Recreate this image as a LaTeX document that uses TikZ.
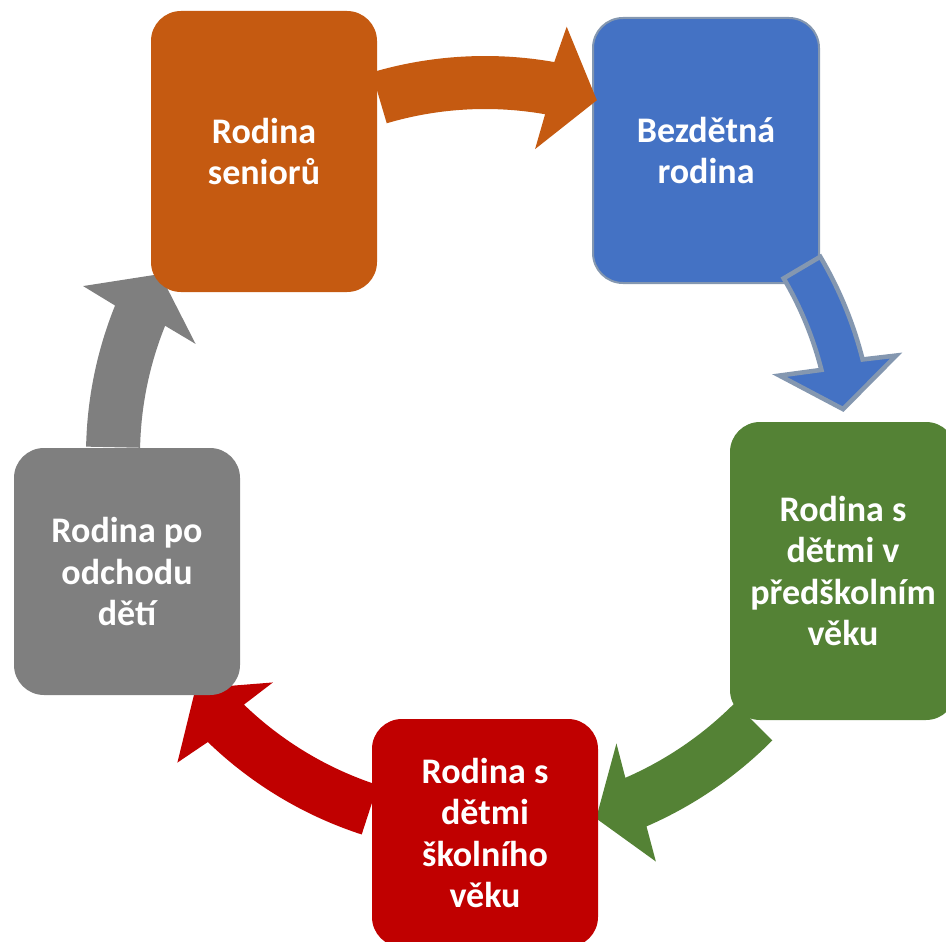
\documentclass[tikz,border=0pt]{standalone}
\usepackage{fontspec}
\setmainfont{Carlito}
\definecolor{orangeC}{HTML}{C55A11}
\definecolor{blueC}{HTML}{4472C4}
\definecolor{blueBorder}{HTML}{8497B0}
\definecolor{greenC}{HTML}{548235}
\definecolor{redC}{HTML}{C00000}
\definecolor{grayC}{HTML}{7F7F7F}
\begin{document}
\begin{tikzpicture}[x=0.75pt,y=-0.75pt,
  box/.style={rectangle, rounded corners=22.5pt, inner sep=0pt, minimum width=169.5pt,
    text=white, align=center, font=\bfseries\fontsize{27}{31}\selectfont},
  blockarrow/.style={line join=miter}]
\clip (0,0) rectangle (946,942);
% Blue box and its arrow
\node[box, fill=blueC, draw=blueBorder, line width=1.5pt, minimum height=198.75pt] (bez) at (706,150.5) {Bezdětná\\rodina};
\begin{scope}[shift={(485,455)}]
\path[blockarrow, fill=blueC, draw=blueBorder, line width=3.4pt]
  (-30.6:389.5) arc[start angle=-30.6, end angle=-14.2, radius=389.5]
  -- (-13.6:423) -- (-7.3:361) -- (-15.1:305) -- (-14.2:347)
  arc[start angle=-14.2, end angle=-30.6, radius=347] -- cycle;
\end{scope}
% Green box and its arrow
\node[box, fill=greenC, minimum height=223.5pt] (pre) at (843,571) {Rodina s\\dětmi v\\předškolním\\věku};
\begin{scope}[shift={(485,455)}]
\fill[blockarrow, greenC]
  (44.8:405) arc[start angle=44.8, end angle=66.5, radius=405]
  -- (67.2:441) -- (73:380) -- (65.5:317) -- (66.5:352)
  arc[start angle=66.5, end angle=44.8, radius=352] -- cycle;
\end{scope}
% Red box and its arrow
\node[box, fill=redC, minimum height=171pt] (sko) at (485,833) {Rodina s\\dětmi\\školního\\věku};
\begin{scope}[shift={(485,455)}]
\fill[blockarrow, redC]
  (108:399) arc[start angle=108, end angle=134, radius=399]
  -- (135:435) -- (141.1:372) -- (133:311) -- (134:347)
  arc[start angle=134, end angle=108, radius=347] -- cycle;
\end{scope}
% Gray box and its arrow
\node[box, fill=grayC, minimum height=185.25pt] (odc) at (127,571.5) {Rodina po\\odchodu\\dětí};
\begin{scope}[shift={(485,455)}]
\fill[blockarrow, grayC]
  (181.2:399) arc[start angle=181.2, end angle=202, radius=399]
  -- (202.8:436) -- (209.1:372) -- (201:310) -- (202:345)
  arc[start angle=202, end angle=181.2, radius=345] -- cycle;
\end{scope}
% Orange box and its arrow
\node[box, fill=orangeC, minimum height=210.75pt] (sen) at (264,151.5) {Rodina\\seniorů};
\begin{scope}[shift={(485,455)}]
\fill[blockarrow, orangeC]
  (-106.5:399) arc[start angle=-106.5, end angle=-80, radius=399]
  -- (-79.2:436) -- (-72.5:372) -- (-80.7:310) -- (-80:346)
  arc[start angle=-80, end angle=-106.5, radius=346] -- cycle;
\end{scope}
\end{tikzpicture}
\end{document}
